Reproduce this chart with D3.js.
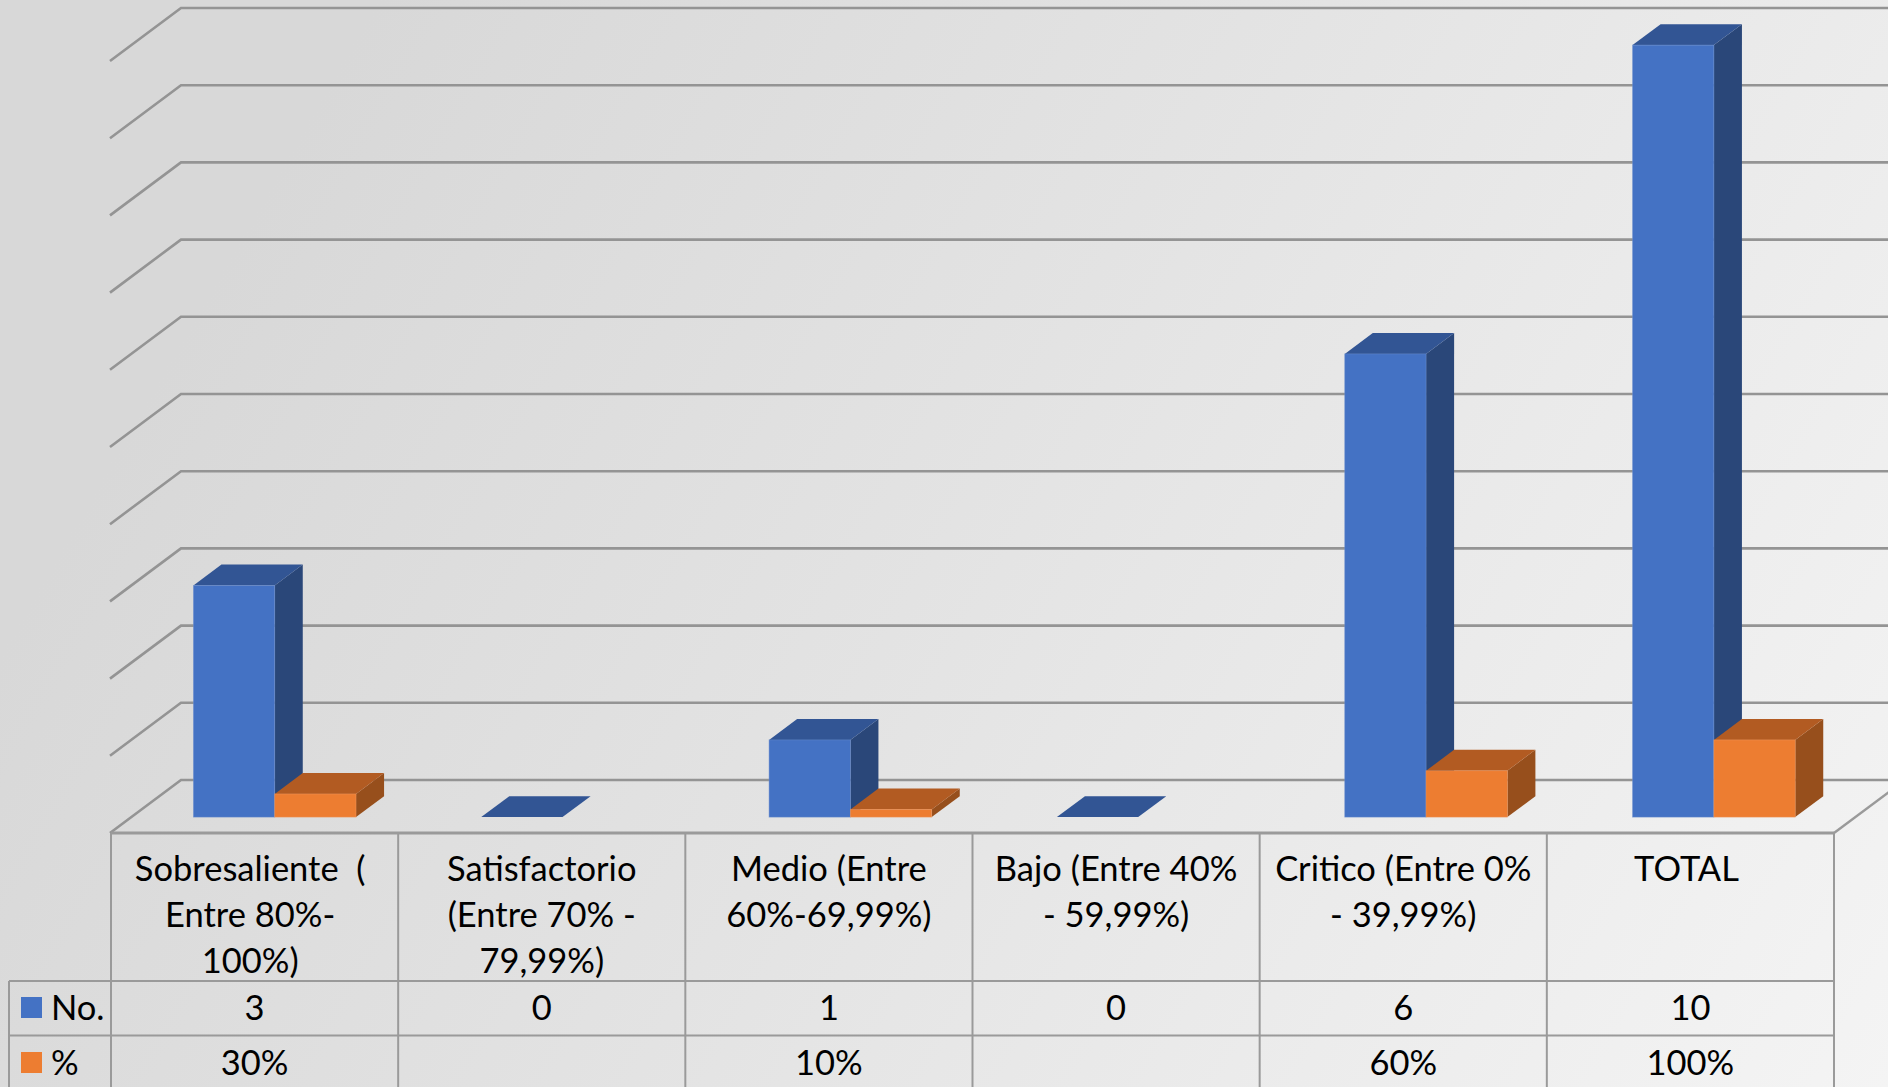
<!DOCTYPE html>
<html>
<head>
<meta charset="utf-8">
<title>Chart</title>
<script src="https://cdn.jsdelivr.net/npm/d3@7"></script>
<style>
html, body { margin: 0; padding: 0; background: #e0e0e0; overflow: hidden; }
svg { display: block; }
text { font-family: Lato, "Open Sans", sans-serif; fill: #000; white-space: pre; }
</style>
</head>
<body>
<div id="chart"></div>
<script>
// categories, one entry per table column, split the way the header wraps
const categories = ['Sobresaliente', 'Satisfactorio', 'Medio', 'Bajo', 'Critico', 'TOTAL'];
const headerLines = [
    ['Sobresaliente  ( ', 'Entre 80%- ', '100%) '],
    ['Satisfactorio', '(Entre 70% -', '79,99%)'],
    ['Medio (Entre', '60%-69,99%)'],
    ['Bajo (Entre 40%', '- 59,99%)'],
    ['Critico (Entre 0%', '- 39,99%)'],
    ['TOTAL ']
];
const seriesNames = ['No.', '%'];
const noValues = [3, 0, 1, 0, 6, 10];
const pctValues = [0.3, null, 0.1, null, 0.6, 1];

const width = 1888, height = 1087;
const colors = [
    { front: '#4472c4', top: '#325594', side: '#2a4779', edge: '#6d90cf' },
    { front: '#ed7d31', top: '#b25b22', side: '#974f1c', edge: '#f09a60' }
];
const gridColor = '#949494', tableColor = '#9a9a9a';

const svg = d3.select('#chart').append('svg')
    .attr('width', width)
    .attr('height', height);

// fondo
let grad = svg.append('defs').append('linearGradient')
    .attr('id', 'bg')
    .attr('gradientUnits', 'userSpaceOnUse')
    .attr('x1', 0).attr('y1', 0).attr('x2', width).attr('y2', height);
[[0, '#d8d8d8'], [0.15, '#d8d8d8'], [0.5, '#e3e3e3'], [1, '#f4f4f4']].forEach(s => {
    grad.append('stop').attr('offset', s[0]).attr('stop-color', s[1]);
});
svg.append('rect').attr('width', width).attr('height', height).attr('fill', 'url(#bg)');

// scales, front plane of the 3D box
const x = d3.scaleBand().domain(categories).range([111, 1834]);
// the bars sit on a slightly wider run than the table columns
const xBars = d3.scaleBand().domain(categories).range([109.5, 1836.5]);
const y = d3.scaleLinear().domain([0, 10]).range([833, 61]);
const xSeries = d3.scaleBand().domain(seriesNames).range([0, xBars.bandwidth()]).paddingOuter(0.77);

// depth: z 0 is the front of the floor, z 1 the back wall
const depthX = 71, depthY = 53;
const barZ0 = 0.3, barZ1 = 0.695;
const px = (xv, z) => xv + depthX * z;
const py = (yv, z) => yv - depthY * z;
const poly = pts => pts.map(p => p.join(',')).join(' ');

// gridlines on the wall and the side
let grid = svg.append('g').attr('fill', 'none').attr('stroke', gridColor).attr('stroke-width', 2.6);
grid.selectAll('polyline')
    .data(y.ticks(10))
    .enter()
    .append('polyline')
    .attr('points', d => poly([
        [px(110, 0), py(y(d), 0)],
        [px(110, 1), py(y(d), 1)],
        [px(1834, 1), py(y(d), 1)]
    ]));
// right edge of the floor
svg.append('line')
    .attr('x1', px(1834, 0)).attr('y1', py(y(0), 0))
    .attr('x2', px(1834, 1)).attr('y2', py(y(0), 1))
    .attr('stroke', tableColor).attr('stroke-width', 2.4);

// bars
const allSeries = [noValues, pctValues];
let bars = svg.append('g');
categories.forEach((cat, i) => {
    allSeries.forEach((values, s) => {
        const v = values[i];
        if (v === null) return;
        const x0 = xBars(cat) + xSeries(seriesNames[s]);
        const x1 = x0 + xSeries.bandwidth();
        const c = colors[s];
        const g = bars.append('g');
        g.append('polygon')
            .attr('fill', c.side)
            .attr('points', poly([
                [px(x1, barZ0), py(y(v), barZ0)],
                [px(x1, barZ1), py(y(v), barZ1)],
                [px(x1, barZ1), py(y(0), barZ1)],
                [px(x1, barZ0), py(y(0), barZ0)]
            ]));
        g.append('polygon')
            .attr('fill', c.top)
            .attr('points', poly([
                [px(x0, barZ0), py(y(v), barZ0)],
                [px(x0, barZ1), py(y(v), barZ1)],
                [px(x1, barZ1), py(y(v), barZ1)],
                [px(x1, barZ0), py(y(v), barZ0)]
            ]));
        g.append('rect')
            .attr('fill', c.front)
            .attr('stroke', c.edge)
            .attr('stroke-width', 0.8)
            .attr('stroke-opacity', 0.6)
            .attr('x', px(x0, barZ0))
            .attr('y', py(y(v), barZ0))
            .attr('width', x1 - x0)
            .attr('height', y(0) - y(v));
    });
});

// data table
const tableLeft = 9, rowY = [981, 1035.5];
let table = svg.append('g').attr('stroke', tableColor).attr('stroke-width', 2);
table.append('line')
    .attr('x1', 111).attr('x2', 1834).attr('y1', y(0)).attr('y2', y(0))
    .attr('stroke-width', 3);
rowY.forEach(ry => {
    table.append('line').attr('x1', tableLeft).attr('x2', 1834).attr('y1', ry).attr('y2', ry);
});
table.append('line').attr('x1', tableLeft).attr('x2', tableLeft).attr('y1', rowY[0]).attr('y2', height);
table.selectAll('line.col')
    .data(categories.concat(['end']))
    .enter()
    .append('line')
    .attr('class', 'col')
    .attr('x1', (d, i) => 111 + i * x.step())
    .attr('x2', (d, i) => 111 + i * x.step())
    .attr('y1', y(0))
    .attr('y2', height);

const fontSize = 34.5;
let labels = svg.append('g').attr('font-size', fontSize).attr('text-anchor', 'middle');

// header
categories.forEach((cat, i) => {
    labels.selectAll(null)
        .data(headerLines[i])
        .enter()
        .append('text')
        .attr('x', x(cat) + x.bandwidth() / 2)
        .attr('y', (d, j) => 880.5 + j * 46)
        .text(d => d);
});

// value rows
labels.selectAll('text.no')
    .data(noValues)
    .enter()
    .append('text')
    .attr('class', 'no')
    .attr('x', (d, i) => x(categories[i]) + x.bandwidth() / 2)
    .attr('y', 1020)
    .text(d => d);
const pctFormat = d3.format('.0%');
labels.selectAll('text.pct')
    .data(pctValues)
    .enter()
    .append('text')
    .attr('class', 'pct')
    .attr('x', (d, i) => x(categories[i]) + x.bandwidth() / 2)
    .attr('y', 1074.5)
    .text(d => d === null ? '' : pctFormat(d));

// legend keys
let legend = svg.append('g').attr('font-size', fontSize);
seriesNames.forEach((name, s) => {
    legend.append('rect')
        .attr('x', 21).attr('y', [997, 1052][s])
        .attr('width', 21).attr('height', 21)
        .attr('fill', colors[s].front);
    legend.append('text')
        .attr('x', 51).attr('y', [1020, 1074.5][s])
        .text(name);
});
</script>
</body>
</html>
